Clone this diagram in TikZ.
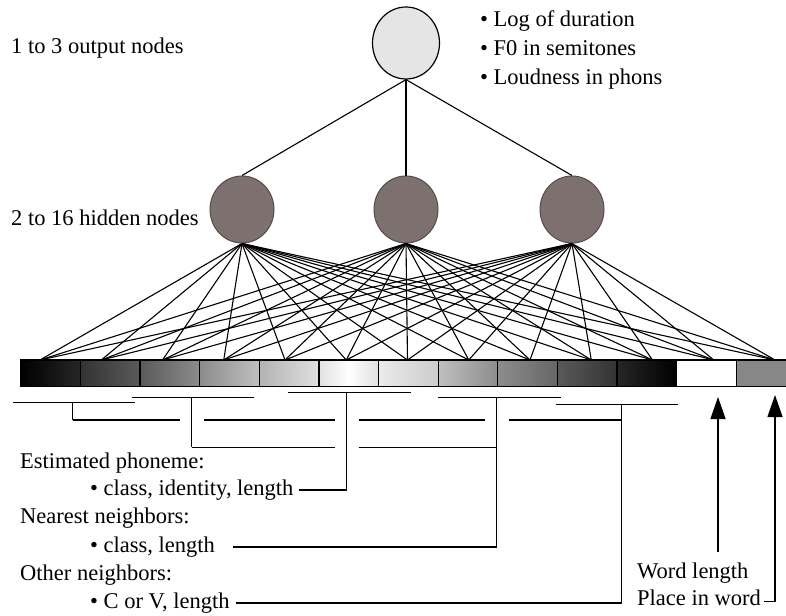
\documentclass[tikz,border=0pt]{standalone}
\usepackage{fontspec}
\setmainfont{Liberation Serif}
\usetikzlibrary{arrows.meta, positioning, shapes.geometric, calc}
\definecolor{hidfill}{RGB}{125,113,112}
\definecolor{hidborder}{RGB}{85,75,75}
\tikzset{
  outnode/.style={ellipse, draw=black, line width=1.2pt, fill=black!10,
                  minimum width=67pt, minimum height=72pt, inner sep=0pt},
  hidnode/.style={ellipse, draw=hidborder, line width=1pt, fill=hidfill,
                  minimum width=64pt, minimum height=67pt, inner sep=0pt},
  cell/.style={rectangle, draw=black, line width=1.3pt, inner sep=0pt,
               minimum width=59.64pt, minimum height=26.7pt},
  link/.style={line width=1.1pt},
  bracket/.style={line width=1.3pt},
  uparrow/.style={-{Triangle[length=22pt, width=15pt]}, line width=1.3pt},
  lbl/.style={font=\fontsize{22.5}{29}\selectfont, inner sep=0pt, anchor=west},
}

\begin{document}
\begin{tikzpicture}[x=1pt, y=-1pt]
  \useasboundingbox (0,0) rectangle (786,615);
  \clip (0,0) rectangle (786,615);

  % --- Output and hidden layer ---
  \node[outnode] (out) at (406,43) {};
  \node[hidnode] (h2) at (406,209.5) {};
  \node[hidnode, left=99pt of h2] (h1) {};
  \node[hidnode, right=101pt of h2] (h3) {};

  % --- Input vector ---
  \foreach \i/\l/\r in {1/100/85, 2/80/65, 3/65/45, 4/45/25, 5/30/12,
                        7/8/20, 8/25/45, 9/45/60, 10/65/80, 11/85/100}
    \node[cell, left color=black!\l, right color=black!\r] (c\i)
      at ({20.7+59.64*(\i-0.5)},373.3) {};
  \node[cell, left color=black!12, right color=black!12, middle color=white] (c6)
    at ({20.7+59.64*5.5},373.3) {};
  \node[cell, fill=white] (c12) at ({20.7+59.64*11.5},373.3) {};
  \node[cell, fill=black!47] (c13) at ({20.7+59.64*12.5},373.3) {};

  \foreach \i in {1,...,13}
    \coordinate (in\i) at ({40+61.25*(\i-1)},360);

  % --- Weights ---
  \foreach \h in {h1,h2,h3} {
    \draw[link] (\h.north) -- (out.south);
    \foreach \i in {1,...,13}
      \draw[link] (\h.south) -- (in\i);
  }

  % --- Layer labels ---
  \node[lbl] (outlbl) at (11,48) {1 to 3 output nodes};
  \node[lbl] (hidlbl) at (11,218) {2 to 16 hidden nodes};
  \node[lbl, align=left] (targets) at (480,50)
    {\textbullet\ Log of duration\\ \textbullet\ F0 in semitones\\ \textbullet\ Loudness in phons};

  % --- Input labels ---
  \node[lbl] (ph) at (20,463) {Estimated phoneme:};
  \node[lbl] (phitem) at (90,490) {\textbullet\ class, identity, length};
  \node[lbl] (nn) at (20,518) {Nearest neighbors:};
  \node[lbl] (nnitem) at (90,547) {\textbullet\ class, length};
  \node[lbl] (on) at (20,575) {Other neighbors:};
  \node[lbl] (onitem) at (90,603) {\textbullet\ C or V, length};
  \node[lbl, anchor=base west] (wl) at (637,578) {Word length};
  \node[lbl, anchor=base west] (piw) at (637,605) {Place in word};

  % --- Brackets ---
  \coordinate (phM) at (346.7,392.7);
  \coordinate (nnM1) at (191.7,397.3);
  \coordinate (nnM2) at (496.7,397.3);
  \coordinate (onM1) at (72.7,402.3);
  \coordinate (onM2) at (621.7,404.3);

  \draw[bracket] (287.7,392.7) -- (410.7,392.7);
  \draw[bracket] (131.7,397.3) -- (254,397.3);
  \draw[bracket] (438.3,397.3) -- (561,397.3);
  \draw[bracket] (12.7,402.3) -- (135,402.3);
  \draw[bracket] (555.7,404.3) -- (678.3,404.3);

  \draw[bracket] ([xshift=5pt]phitem.east) -| (phM);
  \draw[bracket] ([xshift=18pt]nnitem.east) -| (nnM2);
  \draw[bracket] ([xshift=6pt]onitem.east) -| (onM2);
  \draw[bracket] (nnM1) -- (191.7,447.3);
  \draw[bracket] (onM1) -- (72.7,420);

  % crossings left open
  \foreach \a/\b in {191.7/334.7, 358.7/496.7}
    \draw[bracket] (\a,447.3) -- (\b,447.3);
  \foreach \a/\b in {72.7/179.7, 203.7/334.7, 358.7/484.7, 508.7/621.7}
    \draw[bracket] (\a,420) -- (\b,420);

  % --- Word features ---
  \coordinate (wltip) at (718,397);
  \coordinate (pwtip) at (775,395);
  \draw[uparrow] ($(wl.north -| wltip)+(0,-10)$) -- (wltip);
  \draw[uparrow] ($(piw.base east)+(3,-3.5)$) -| (pwtip);
\end{tikzpicture}
\end{document}
